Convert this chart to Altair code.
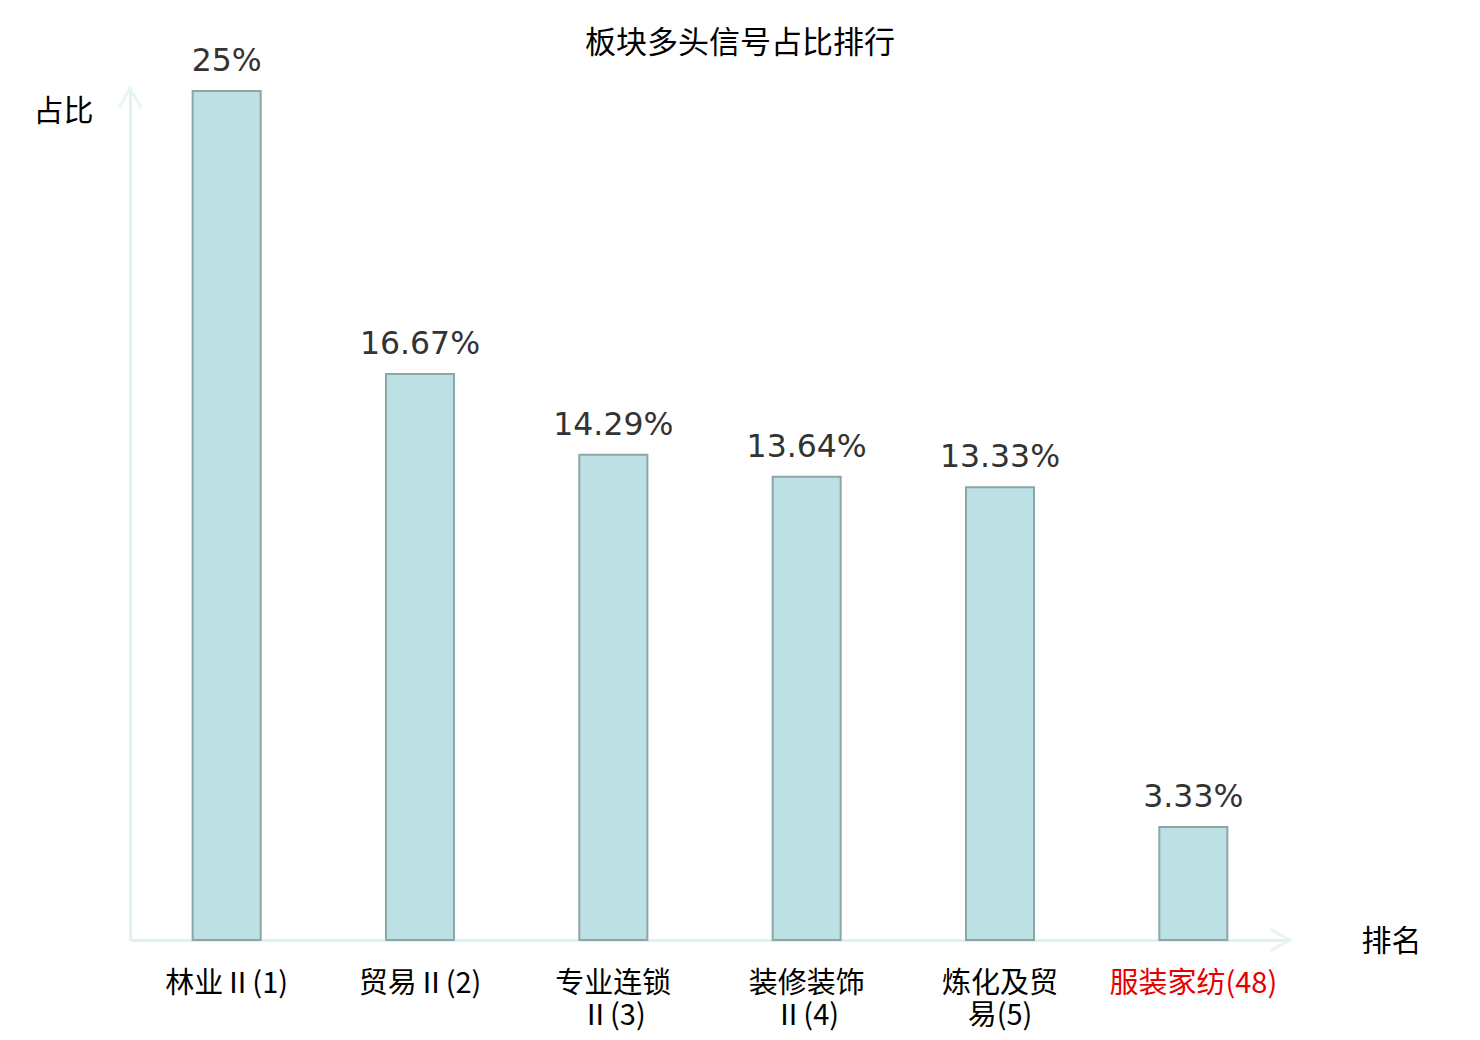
import altair as alt
import pandas as pd

categories = ["林业Ⅱ(1)", "贸易Ⅱ(2)", "专业连锁\nⅡ(3)", "装修装饰\nⅡ(4)", "炼化及贸\n易(5)", "服装家纺(48)"]
values = [25, 16.67, 14.29, 13.64, 13.33, 3.33]
labels = ["25%", "16.67%", "14.29%", "13.64%", "13.33%", "3.33%"]
highlight = "服装家纺(48)"

df = pd.DataFrame({"cat": categories, "val": values, "lab": labels})

FONT_CJK = "Noto Sans CJK SC"
FONT_LABEL = "'Noto Sans CJK SC'"
AXIS_COLOR = "#dff2ef"

x_enc = alt.X(
    "cat:N",
    sort=categories,
    scale=alt.Scale(paddingInner=0.648, paddingOuter=0.324),
    axis=alt.Axis(
        title="排名",
        titleFont=FONT_CJK,
        titleFontSize=30,
        titleFontWeight="normal",
        titleColor="#000000",
        titleX=1261,
        titleY=1,
        titleAlign="center",
        titleBaseline="middle",
        titleAngle=0,
        labelFont=FONT_LABEL,
        labelFontSize=29,
        labelAngle=0,
        labelPadding=29,
        labelLineHeight=32,
        labelExpr="split(datum.label, '\\n')",
        labelColor=alt.condition(f"datum.value == '{highlight}'", alt.value("#e60000"), alt.value("#000000")),
        labelLimit=0,
        domainColor=AXIS_COLOR,
        domainWidth=3,
        ticks=False,
        grid=False,
    ),
)

y_enc = alt.Y(
    "val:Q",
    scale=alt.Scale(domain=[0, 25], nice=False),
    axis=alt.Axis(
        title="占比",
        titleFont=FONT_CJK,
        titleFontSize=30,
        titleFontWeight="normal",
        titleColor="#000000",
        titleAngle=0,
        titleX=-67,
        titleY=20,
        titleAlign="center",
        titleBaseline="middle",
        labels=False,
        ticks=False,
        grid=False,
        domainColor=AXIS_COLOR,
        domainWidth=3,
    ),
)

bars = alt.Chart(df).mark_bar(
    fill="#bce0e3", stroke="#8ca7a8", strokeWidth=2
).encode(x=x_enc, y=y_enc)

texts = alt.Chart(df).mark_text(
    baseline="bottom", dy=-13, fontSize=31.5, font="DejaVu Sans", color="#333333"
).encode(x=alt.X("cat:N", sort=categories), y="val:Q", text="lab:N")

arrow_df = pd.DataFrame({"a": [1]})
y_arrow = alt.Chart(arrow_df).mark_point(
    shape="M-1,0.9 L0,-0.9 L1,0.9", filled=False, stroke=AXIS_COLOR, strokeWidth=3, size=484
).encode(x=alt.value(0), y=alt.value(7))
x_arrow = alt.Chart(arrow_df).mark_point(
    shape="M-0.9,-1 L0.9,0 L-0.9,1", filled=False, stroke=AXIS_COLOR, strokeWidth=3, size=484
).encode(x=alt.value(1150), y=alt.value(849))

chart = alt.layer(bars, texts, y_arrow, x_arrow).properties(
    width=1160,
    height=849,
    title=alt.TitleParams(
        "板块多头信号占比排行", font=FONT_CJK, fontSize=31, fontWeight="normal",
        color="#000000", anchor="middle", offset=-14, dx=30
    ),
    autosize=alt.AutoSizeParams(type="none"),
    padding={"left": 122, "top": 83, "right": 182, "bottom": 92},
).configure_view(stroke=None)

chart.save("out.html", embed_options={"renderer": "svg", "actions": False})
